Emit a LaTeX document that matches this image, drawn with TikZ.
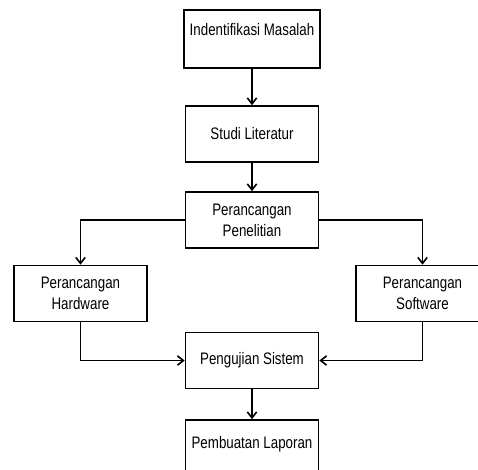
\documentclass[tikz,border=0pt]{standalone}
\usepackage{fontspec}
\setmainfont{Liberation Sans}[FakeStretch = 0.8]
\usetikzlibrary{arrows.meta}

\begin{document}
\begin{tikzpicture}[x = 0.75pt, y = -0.75pt]
\tikzstyle{every node} = [draw, fill = white, line width = 1.2pt, minimum width = 99.75pt, minimum height = 42pt, align = center, font = \fontsize{12.5}{15.75}\selectfont]
\tikzstyle{arr} = [line width = 1.2pt, -{Straight Barb[length = 4.5pt, width = 7pt]}]

\useasboundingbox (0, 0) rectangle (478, 469);
\clip (0, 0) rectangle (478, 469);

\draw (252, 39) node[minimum width = 102pt, minimum height = 43.5pt, text height = 9pt, text depth = 15pt] (1) {Indentifikasi Masalah};
\draw (252, 134) node (2) {Studi Literatur};
\draw (252, 220) node (3) {Perancangan\\Penelitian};
\draw (80.5, 293.5) node (4) {Perancangan\\Hardware};
\draw (422.5, 293.5) node (5) {Perancangan\\Software};
\draw (252, 360.5) node (6) {Pengujian Sistem};
\draw (252, 448) node[text height = 9pt, text depth = 9pt] (7) {Pembuatan Laporan};

\draw[arr] (1) -- (2);
\draw[arr] (2) -- (3);
\draw[arr] (3) -| (4);
\draw[arr] (3) -| (5);
\draw[arr] (4) |- (6);
\draw[arr] (5) |- (6);
\draw[arr] (6) -- (7);
\end{tikzpicture}
\end{document}
